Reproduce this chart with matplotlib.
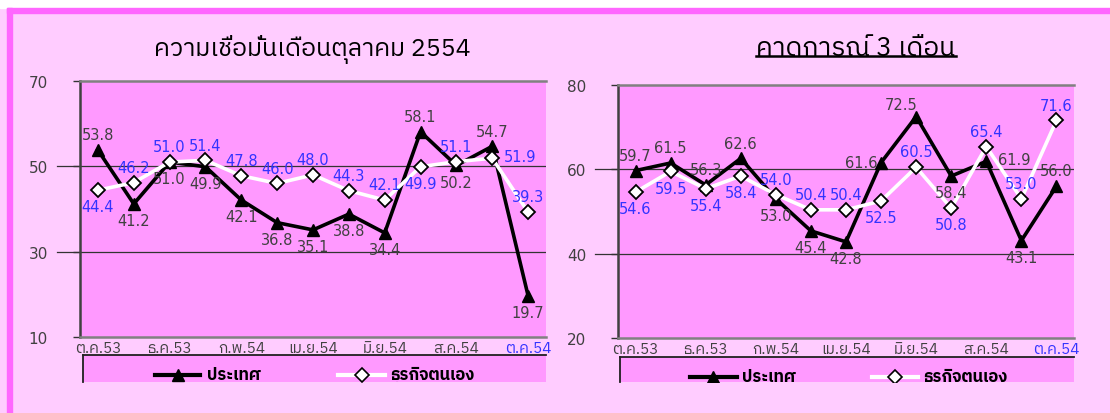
import matplotlib
matplotlib.use("Agg")
import matplotlib.pyplot as plt
from matplotlib import font_manager
from matplotlib.ft2font import FT2Font
from matplotlib.patches import Rectangle
from matplotlib.lines import Line2D

# ── Data ──────────────────────────────────────────────────────────────────────

months = ["ต.ค.53", "พ.ย.53", "ธ.ค.53", "ม.ค.54", "ก.พ.54", "มี.ค.54", "เม.ย.54",
          "พ.ค.54", "มิ.ย.54", "ก.ค.54", "ส.ค.54", "ก.ย.54", "ต.ค.54"]

now_country  = [53.8, 41.2, 51.0, 49.9, 42.1, 36.8, 35.1, 38.8, 34.4, 58.1, 50.2, 54.7, 19.7]
now_business = [44.4, 46.2, 51.0, 51.4, 47.8, 46.0, 48.0, 44.3, 42.1, 49.9, 51.1, 51.9, 39.3]

fcst_country  = [59.7, 61.5, 56.3, 62.6, 53.0, 45.4, 42.8, 61.6, 72.5, 58.4, 61.9, 43.1, 56.0]
fcst_business = [54.6, 59.5, 55.4, 58.4, 54.0, 50.4, 50.4, 52.5, 60.5, 50.8, 65.4, 53.0, 71.6]

series_names = ["ประเทศ", "ธุรกิจตนเอง"]
titles = ["ความเชื่อมั่นเดือนตุลาคม 2554", "คาดการณ์ 3 เดือน"]

# ── Style ─────────────────────────────────────────────────────────────────────

BG_LIGHT = "#FFCCFF"
BG_PLOT  = "#FF99FF"
BORDER   = "#FF66FF"
TXT_DARK = "#404040"
TXT_BLUE = "#3333FF"

# label placement codes: a above, b below, l left, r right, al above-left
OFFS = {"a": (0, 11), "b": (0, -12), "l": (-14, 0), "r": (20, 1), "al": (-11, 9)}
pos_now_c  = ["a", "b", "b", "b", "b", "b", "b", "b", "b", "a", "b", "a", "b"]
pos_now_b  = ["b", "a", "a", "a", "a", "a", "a", "a", "a", "b", "a", "r", "a"]
pos_fc_c   = ["a", "a", "a", "a", "b", "b", "b", "l", "al", "b", "r", "b", "a"]
pos_fc_b   = ["b", "b", "b", "b", "a", "a", "a", "b", "a", "b", "a", "a", "a"]


def find_thai_font():
    best = None
    for f in font_manager.fontManager.ttflist:
        try:
            cmap = FT2Font(f.fname).get_charmap()
        except Exception:
            continue
        if 0x0E01 in cmap:
            if "Thai" in f.name or "Tahoma" in f.name:
                return f.name
            best = best or f.name
    return best


thai = find_thai_font()
FAM = [thai, "DejaVu Sans"] if thai else ["DejaVu Sans"]
plt.rcParams["font.family"] = FAM

W, H = 1110, 414
fig = plt.figure(figsize=(W / 100, H / 100), dpi=100, facecolor=BG_LIGHT)


def fx(px):
    return px / W


def fy(py):
    return 1 - py / H


# frame decoration
fig.patches.append(Rectangle((0, fy(9)), 1, 9 / H, transform=fig.transFigure,
                             color="white", zorder=0))
fig.patches.append(Rectangle((fx(7), fy(14)), 1, 5 / H, transform=fig.transFigure,
                             color=BORDER, zorder=0))
fig.patches.append(Rectangle((fx(7), 0), 5 / W, fy(9), transform=fig.transFigure,
                             color=BORDER, zorder=0))


def make_chart(box, ylim, yticks, c_vals, b_vals, c_pos, b_pos, title, tx, underline,
               leg_box, leg_items):
    x0, y0, x1, y1 = box
    ax = fig.add_axes([fx(x0), fy(y1), fx(x1 - x0), (y1 - y0) / H])
    ax.set_facecolor(BG_PLOT)
    x = list(range(len(months)))
    ax.plot(x, c_vals, color="black", lw=2.6, marker="^", ms=9, zorder=3,
            clip_on=False)
    ax.plot(x, b_vals, color="white", lw=2.6, marker="D", ms=7.5, mfc="white",
            mec="black", mew=1.3, zorder=4, clip_on=False)
    for i, v in enumerate(c_vals):
        ax.annotate(f"{v:.1f}", (i, v), xytext=OFFS[c_pos[i]], textcoords="offset points",
                    ha="center", va="center", fontsize=10.5, color=TXT_DARK,
                    family="DejaVu Sans", zorder=5)
    for i, v in enumerate(b_vals):
        ax.annotate(f"{v:.1f}", (i, v), xytext=OFFS[b_pos[i]], textcoords="offset points",
                    ha="center", va="center", fontsize=10.5, color=TXT_BLUE,
                    family="DejaVu Sans", zorder=5)
    ax.set_xlim(-0.5, len(months) - 0.5)
    ax.set_ylim(*ylim)
    ax.set_yticks(yticks)
    ax.set_yticklabels([str(t) for t in yticks], fontsize=11, color=TXT_DARK,
                       family="DejaVu Sans")
    ax.set_xticks(x[::2])
    ax.set_xticklabels(months[::2], fontsize=11, color=TXT_DARK)
    ax.get_xticklabels()[-1].set_color(TXT_BLUE)
    ax.tick_params(axis="x", length=0, pad=3)
    ax.tick_params(axis="y", length=5, width=1, color="#333333", pad=18)
    for t in yticks[1:-1]:
        ax.axhline(t, color="#333333", lw=0.9, zorder=1)
        ax.plot([-0.05, 0], [t, t], transform=ax.get_yaxis_transform(),
                color="#333333", lw=0.9, clip_on=False)
    ax.spines["right"].set_visible(False)
    ax.spines["top"].set_color("#808080")
    ax.spines["top"].set_linewidth(1.8)
    ax.spines["bottom"].set_color("#808080")
    ax.spines["bottom"].set_linewidth(1.8)
    ax.spines["left"].set_color("#404040")
    ax.spines["left"].set_linewidth(1.8)

    if underline:
        t = fig.text(fx(tx), fy(49), title, ha="center", va="center", fontsize=19,
                     color="black")
        fig.canvas.draw()
        bb = t.get_window_extent()
        fig.add_artist(Line2D([bb.x0 / W, bb.x1 / W], [fy(57)] * 2,
                              transform=fig.transFigure, color="black", lw=1.8))
    else:
        fig.text(fx(tx), fy(49), title, ha="center", va="center", fontsize=18,
                 color="black")

    # legend panel below the axes (clipped at its bottom edge as in the source)
    lx0, ly0, lx1, ly1 = leg_box
    lg = fig.add_axes([fx(lx0), fy(ly1), fx(lx1 - lx0), (ly1 - ly0) / H])
    lg.set_facecolor(BG_PLOT)
    lg.set_xlim(lx0, lx1)
    lg.set_ylim(ly1, ly0)
    lg.set_xticks([])
    lg.set_yticks([])
    for s in ["right", "bottom"]:
        lg.spines[s].set_visible(False)
    for s in ["left", "top"]:
        lg.spines[s].set_color("#202020")
        lg.spines[s].set_linewidth(1.3)
    (ca, cb, ct), (da, db, dt), ly = leg_items
    lg.plot([ca, cb], [ly, ly], color="black", lw=3)
    lg.plot([(ca + cb) / 2], [ly], color="black", marker="^", ms=9, clip_on=True)
    lg.text(ct, ly, series_names[0], ha="left", va="center", fontsize=12,
            fontweight="bold", clip_on=True)
    lg.plot([da, db], [ly, ly], color="white", lw=3)
    lg.plot([(da + db) / 2], [ly], marker="D", ms=7.5, mfc="white", mec="black",
            mew=1.2, clip_on=True)
    lg.text(dt, ly, series_names[1], ha="left", va="center", fontsize=12,
            fontweight="bold", clip_on=True)
    return ax


make_chart((80, 82, 546, 338), (10, 70), [10, 30, 50, 70],
           now_country, now_business, pos_now_c, pos_now_b,
           titles[0], 312, False, (83, 356, 546, 383),
           ((155, 200, 207), (338, 385, 390), 376))

make_chart((618, 86, 1074, 339), (20, 80), [20, 40, 60, 80],
           fcst_country, fcst_business, pos_fc_c, pos_fc_b,
           titles[1], 856, True, (620, 358, 1074, 383),
           ((690, 737, 742), (872, 918, 923), 378))

fig.savefig("out.png", dpi=100, facecolor=BG_LIGHT)
